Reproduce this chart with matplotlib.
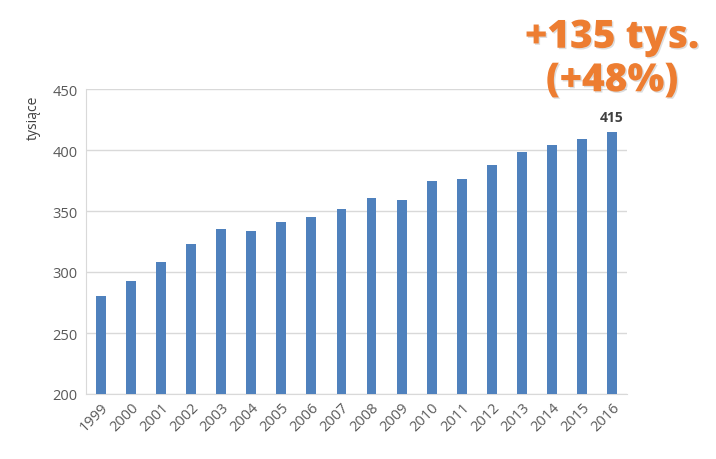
import matplotlib
matplotlib.use("Agg")
import matplotlib.pyplot as plt
import matplotlib.patheffects as pe

years = [str(y) for y in range(1999, 2017)]
values = [280, 293, 308, 323, 335, 334, 341, 345, 352, 361, 359, 375, 376, 388, 398, 404, 409, 415]
yticks = [200, 250, 300, 350, 400, 450]
last_label = "415"
annotation = "+135 tys.\n(+48%)"
ylabel = "tysiące"

plt.rcParams['font.family'] = ['Open Sans', 'DejaVu Sans']

fig = plt.figure(figsize=(7.16, 4.6), dpi=100)
ax = fig.add_axes([86/716, 1 - 395/460, (627-86)/716, (395-90)/460])

x = range(len(years))
ax.bar(x, values, width=0.33, color='#4F81BD', zorder=3, bottom=0)
ax.set_ylim(200, 450)
ax.set_xlim(-0.5, len(years) - 0.5)
ax.set_yticks(yticks)
ax.set_xticks(list(x))
ax.set_xticklabels(years, rotation=45, ha='right', rotation_mode='anchor')
ax.tick_params(axis='both', length=0, labelsize=10.5, colors='#595959', pad=6)
ax.tick_params(axis='x', pad=4)
ax.grid(axis='y', color='#D9D9D9', linewidth=1, zorder=0)
for s in ['top', 'right']:
    ax.spines[s].set_visible(False)
ax.spines['left'].set_color('#D9D9D9')
ax.spines['bottom'].set_color('#D9D9D9')

ax.text(len(years) - 1, values[-1] + 6, last_label, ha='center', va='bottom',
        fontsize=10, fontweight='bold', color='#404040')

fig.text(33/716, 1 - 118/460, ylabel, rotation=90, ha='center', va='center',
         fontsize=10, color='#404040')

fig.text(612/716, 1 - 60/460, annotation, ha='center', va='center',
         fontsize=28, fontweight=800, color='#ED7D31', linespacing=1.15,
         path_effects=[pe.SimplePatchShadow(offset=(1.0, -1.0), shadow_rgbFace='#A0A0A0', alpha=0.35), pe.Normal()])

fig.savefig('out.png', dpi=100)
